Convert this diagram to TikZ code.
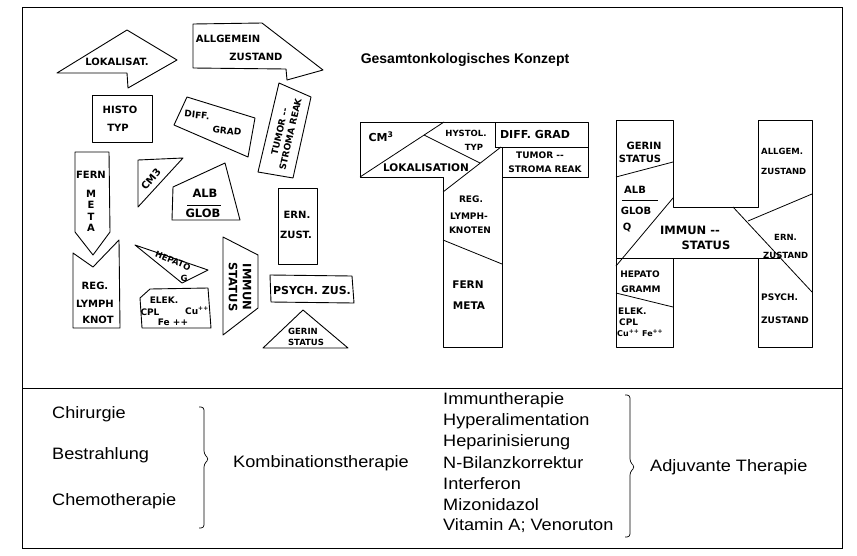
\documentclass[tikz,border=0pt]{standalone}
\usepackage{fontspec}
\setmainfont{Liberation Sans}
\newfontfamily\bodyfont{Liberation Sans}[FakeStretch=1.1]
\newfontfamily\handfont{DejaVu Sans}

\begin{document}
\begin{tikzpicture}[
		x=1pt, y=-1pt,
		piece/.style={draw=black, line width=0.9pt, line join=round},
		cut/.style={draw=black, line width=0.8pt},
		hand/.style={font=\handfont\bfseries\fontsize{10}{12}\selectfont, inner sep=0pt, align=center},
		big hand/.style={font=\handfont\bfseries\fontsize{11.5}{14}\selectfont, inner sep=0pt, align=center},
		small hand/.style={font=\handfont\bfseries\fontsize{9}{11}\selectfont, inner sep=0pt, align=center},
		tiny hand/.style={font=\handfont\bfseries\fontsize{8.5}{10}\selectfont, inner sep=0pt, align=center},
		body/.style={font=\bodyfont\fontsize{16.5}{20}\selectfont, anchor=west, inner sep=0pt},
		bracket/.style={line width=0.7pt, rounded corners=3pt}
		]
		\useasboundingbox (0,0) rectangle (857,555);
		
		% frame and separator
		\draw[line width=0.8pt] (22,7) rectangle (842,548);
		\draw[line width=0.8pt] (22,388) -- (842,388);
		
		% ---------------------------------------------------------
		% Left: the loose pieces
		% ---------------------------------------------------------
		\draw[piece] (57,73) -- (127,30) -- (177,60) -- (128,88) -- (127,73) -- cycle;
		\node[hand] (lokalisat) at (117,62) {LOKALISAT.};
		
		\draw[piece] (193,24) -- (262,23) -- (323,70) -- (287,80) -- (286,69) -- (193,68) -- cycle;
		\node[hand] (allgemein) at (228,39) {ALLGEMEIN};
		\node[hand] (zustand) at (256,57) {ZUSTAND};
		
		\draw[piece] (92,95) rectangle (152,142);
		\node[hand] (histo) at (120,110) {HISTO};
		\node[hand] (typ) at (118,128) {TYP};
		
		\draw[piece] (187,97) -- (255,118) -- (248,157) -- (174,125) -- cycle;
		\node[small hand, rotate=-6] (diff) at (197,115) {DIFF.};
		\node[small hand, rotate=-6] (grad) at (227,131) {GRAD};
		
		\draw[piece] (279,83) -- (311,97) -- (293,178) -- (258,172) -- cycle;
		\node[small hand, rotate=77] (tumor) at (285,133) {TUMOR --\\STROMA REAK};
		
		\draw[piece] (75,152) -- (109,152) -- (110,232) -- (93,255) -- (75,232) -- cycle;
		\node[hand] (fern) at (91,175) {FERN};
		\node[hand, font=\handfont\bfseries\fontsize{10}{11.5}\selectfont] (meta) at (91,211) {M\\E\\T\\A};
		
		\draw[piece] (73,253) -- (93,267) -- (119,240) -- (120,328) -- (73,328) -- cycle;
		\node[hand] (reg) at (95,286) {REG.};
		\node[hand] (lymph) at (95,304) {LYMPH};
		\node[hand] (knot) at (98,320) {KNOT};
		
		\draw[piece] (138,160) -- (183,158) -- (138,207) -- cycle;
		\node[hand, rotate=50] (cm) at (151,179) {CM3};
		
		\draw[piece] (173,187) -- (225,163) -- (240,220) -- (172,220) -- cycle;
		\node[big hand] (alb) at (205,193) {ALB};
		\draw[cut] (187,205) -- (221,205);
		\node[big hand] (glob) at (203,213) {GLOB};
		
		\draw[piece] (278,188) rectangle (317,264);
		\node[hand] (ern) at (297,215) {ERN.};
		\node[hand] (zust) at (296,235) {ZUST.};
		
		\draw[piece] (135,245) -- (208,270) -- (182,283) -- cycle;
		\node[tiny hand, rotate=-22] (hepato) at (173,261) {HEPATO};
		\node[tiny hand] (hepg) at (184,278) {G};
		
		\draw[piece] (140,298) -- (150,289) -- (208,288) -- (211,328) -- (142,328) -- cycle;
		\node[small hand] (elek) at (164,300) {ELEK.};
		\node[small hand] (cpl) at (150,312) {CPL};
		\node[small hand] (cu) at (197,311) {Cu\textsuperscript{++}};
		\node[small hand] (fe) at (173,322) {Fe ++};
		
		\draw[piece] (223,237) -- (258,255) -- (258,308) -- (223,335) -- cycle;
		\node[big hand, rotate=-90] (immun) at (240,287) {IMMUN\\STATUS};
		
		\draw[piece] (270,275) -- (352,276) -- (354,303) -- (271,302) -- cycle;
		\node[font=\handfont\bfseries\fontsize{11}{13}\selectfont, inner sep=0pt] (psych) at (312,290) {PSYCH. ZUS.};
		
		\draw[piece] (303,310) -- (348,348) -- (263,348) -- cycle;
		\node[tiny hand] (gerin) at (303,331) {GERIN};
		\node[tiny hand] (gstatus) at (306,342) {STATUS};
		
		\node[font=\bfseries\fontsize{14}{16}\selectfont] (title) at (465,60) {Gesamtonkologisches Konzept};
		
		% ---------------------------------------------------------
		% Middle: the T
		% ---------------------------------------------------------
		\draw[piece] (360,122) -- (588,122) -- (588,177) -- (502,177) -- (502,347)
		-- (443,347) -- (443,177) -- (360,177) -- cycle;
		\draw[cut] (360,177) -- (444,122);
		\draw[cut] (424,135) -- (480,163);
		\draw[cut] (501,147) -- (443,192);
		\draw[cut] (495,122) -- (495,147) -- (588,147);
		\draw[cut] (502,147) -- (502,177);
		\draw[cut] (443,240) -- (502,264);
		
		\node[font=\handfont\bfseries\fontsize{11}{13}\selectfont] (tcm) at (381,137) {CM\textsuperscript{3}};
		\node[tiny hand] (thystol) at (466,133) {HYSTOL.};
		\node[tiny hand] (ttyp) at (474,147) {TYP};
		\node[font=\handfont\bfseries\fontsize{10.5}{12}\selectfont, inner sep=0pt] (tlokal) at (426,168) {LOKALISATION};
		\node[font=\handfont\bfseries\fontsize{11}{13}\selectfont, inner sep=0pt] (tdiff) at (535,134) {DIFF. GRAD};
		\node[small hand] (ttumor) at (540,155) {TUMOR --};
		\node[small hand] (tstroma) at (545,169) {STROMA REAK};
		\node[small hand] (treg) at (471,199) {REG.};
		\node[small hand] (tlymph) at (469,216) {LYMPH-};
		\node[small hand] (tknoten) at (470,230) {KNOTEN};
		\node[font=\handfont\bfseries\fontsize{10.5}{12}\selectfont, inner sep=0pt] (tfern) at (468,285) {FERN};
		\node[font=\handfont\bfseries\fontsize{10.5}{12}\selectfont, inner sep=0pt] (tmeta) at (469,306) {META};
		
		% ---------------------------------------------------------
		% Right: the H
		% ---------------------------------------------------------
		\draw[piece] (616,120) -- (673,120) -- (673,207) -- (758,207) -- (758,120)
		-- (812,120) -- (812,347) -- (758,347) -- (758,258) -- (673,258)
		-- (673,347) -- (616,347) -- cycle;
		\draw[cut] (616,177) -- (673,162);
		\draw[cut] (673,198) -- (616,266);
		\draw[cut] (616,258) -- (780,258);
		\draw[cut] (733,207) -- (812,292);
		\draw[cut] (748,221) -- (812,194);
		\draw[cut] (616,293) -- (673,307);
		
		\node[hand] (hgerin) at (644,146) {GERIN};
		\node[hand] (hgstatus) at (640,159) {STATUS};
		\node[hand] (halb) at (635,190) {ALB};
		\draw[cut] (622,200) -- (658,200);
		\node[hand] (hglob) at (636,211) {GLOB};
		\node[hand] (hq) at (627,228) {Q};
		\node[big hand] (himmun) at (690,230) {IMMUN --};
		\node[big hand] (hstatus) at (706,245) {STATUS};
		\node[small hand] (hhepato) at (640,274) {HEPATO};
		\node[small hand] (hgramm) at (641,289) {GRAMM};
		\node[small hand, anchor=west] (helek) at (618,311) {ELEK.};
		\node[small hand, anchor=west] (hcpl) at (619,322) {CPL};
		\node[font=\handfont\bfseries\fontsize{8}{9}\selectfont, inner sep=0pt, anchor=west] (hcu) at (617,333) {Cu\textsuperscript{++} Fe\textsuperscript{++}};
		\node[tiny hand, anchor=west] (hallgem) at (761,151) {ALLGEM.};
		\node[tiny hand, anchor=west] (hzust1) at (761,171) {ZUSTAND};
		\node[tiny hand, anchor=west] (hern) at (774,237) {ERN.};
		\node[tiny hand, anchor=west] (hzust2) at (763,255) {ZUSTAND};
		\node[small hand, anchor=west] (hpsych) at (761,297) {PSYCH.};
		\node[small hand, anchor=west] (hzust3) at (761,320) {ZUSTAND};
		
		% ---------------------------------------------------------
		% Bottom: therapies
		% ---------------------------------------------------------
		\node[body] (chir) at (52,414) {Chirurgie};
		\node[body] (bestr) at (52,455) {Bestrahlung};
		\node[body] (chemo) at (52,501) {Chemotherapie};
		\draw[bracket] (199,407) -- (204,407) -- (204,454) -- (209,459) -- (204,464) -- (204,528) -- (199,528);
		\node[body] (komb) at (233,463) {Kombinationstherapie};
		
		\foreach \txt [count=\i from 0] in {Immuntherapie, Hyperalimentation, Heparinisierung,
			N-Bilanzkorrektur, Interferon, Mizonidazol, Vitamin A; Venoruton} {
			\node[body] (adj\i) at (443,{400+21*\i}) {\txt};
		}
		\draw[bracket] (625,395) -- (630,395) -- (630,462) -- (635,467) -- (630,472) -- (630,537) -- (625,537);
		\node[body] (adjuv) at (650,467) {Adjuvante Therapie};
		
	\end{tikzpicture}
\end{document}
